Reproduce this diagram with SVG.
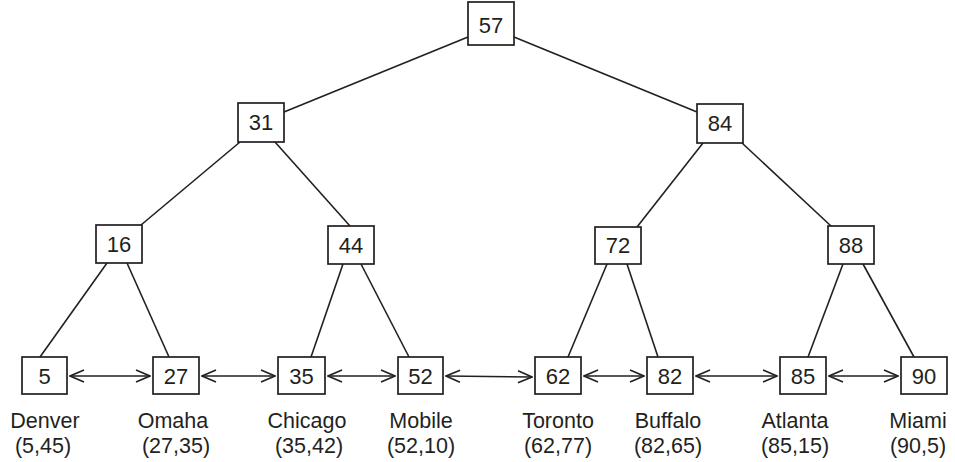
<svg xmlns="http://www.w3.org/2000/svg" width="955" height="462" viewBox="0 0 955 462">
  <style>
    .box { fill: #fff; stroke: #231f20; stroke-width: 1.7; }
    .num { font-family: "Liberation Sans", Arial, sans-serif; font-size: 22px; fill: #231f20; text-anchor: middle; }
    .lbl { font-family: "Liberation Sans", Arial, sans-serif; font-size: 21.5px; fill: #231f20; text-anchor: middle; }
    .edge { stroke: #231f20; stroke-width: 1.6; fill: none; }
    .link { stroke: #231f20; stroke-width: 1.6; fill: none; marker-start: url(#chev); marker-end: url(#chev); }
  </style>
  <defs>
    <marker id="chev" viewBox="0 0 16 14" refX="15" refY="7" markerWidth="16" markerHeight="14" markerUnits="userSpaceOnUse" orient="auto-start-reverse">
      <path d="M1,1 L15,7 L1,13" fill="none" stroke="#231f20" stroke-width="1.6"/>
    </marker>
  </defs>

  <rect width="955" height="462" fill="#fff"/>

  <!-- tree edges and leaf links -->
  <g id="connectors">
    <line class="edge" x1="468" y1="37" x2="284" y2="112"/>
    <line class="edge" x1="514" y1="37" x2="697" y2="112"/>
    <line class="edge" x1="240" y1="142" x2="141" y2="225"/>
    <line class="edge" x1="275" y1="142" x2="350" y2="226"/>
    <line class="edge" x1="703" y1="143" x2="637" y2="227"/>
    <line class="edge" x1="742" y1="143" x2="831" y2="226"/>
    <line class="edge" x1="107" y1="263" x2="40" y2="357"/>
    <line class="edge" x1="127" y1="263" x2="169" y2="357"/>
    <line class="edge" x1="343" y1="264" x2="311" y2="357"/>
    <line class="edge" x1="361" y1="264" x2="409" y2="357"/>
    <line class="edge" x1="607" y1="264" x2="568" y2="357"/>
    <line class="edge" x1="627" y1="264" x2="658" y2="357"/>
    <line class="edge" x1="843" y1="264" x2="808" y2="357"/>
    <line class="edge" x1="863" y1="264" x2="914" y2="357"/>

    <line class="link" x1="70" y1="376" x2="150" y2="376"/>
    <line class="link" x1="202" y1="376" x2="275" y2="376"/>
    <line class="link" x1="328" y1="376" x2="395" y2="376"/>
    <line class="link" x1="446" y1="376" x2="532" y2="377"/>
    <line class="link" x1="584" y1="376" x2="644" y2="376"/>
    <line class="link" x1="696" y1="376" x2="777" y2="376"/>
    <line class="link" x1="829" y1="376" x2="898" y2="376"/>
  </g>

  <!-- internal nodes -->
  <g id="n57"><rect class="box" x="468" y="2" width="46" height="43"/><text class="num" x="491" y="33">57</text></g>
  <g id="n31"><rect class="box" x="238" y="103" width="46" height="39"/><text class="num" x="261" y="130">31</text></g>
  <g id="n84"><rect class="box" x="697" y="104" width="46" height="39"/><text class="num" x="720" y="131">84</text></g>
  <g id="n16"><rect class="box" x="96" y="225" width="46" height="38"/><text class="num" x="119" y="252">16</text></g>
  <g id="n44"><rect class="box" x="328" y="226" width="46" height="38"/><text class="num" x="351" y="253">44</text></g>
  <g id="n72"><rect class="box" x="595" y="227" width="46" height="37"/><text class="num" x="618" y="253">72</text></g>
  <g id="n88"><rect class="box" x="828" y="226" width="46" height="38"/><text class="num" x="851" y="253">88</text></g>

  <!-- leaves with city records -->
  <g id="leaf5">
    <rect class="box" x="22" y="357" width="45" height="37"/><text class="num" x="44.5" y="384">5</text>
    <text class="lbl" x="45" y="428">Denver</text><text class="lbl" x="43" y="453">(5,45)</text>
  </g>
  <g id="leaf27">
    <rect class="box" x="153" y="357" width="46" height="37"/><text class="num" x="176" y="384">27</text>
    <text class="lbl" x="173" y="428">Omaha</text><text class="lbl" x="176" y="453">(27,35)</text>
  </g>
  <g id="leaf35">
    <rect class="box" x="278" y="357" width="47" height="37"/><text class="num" x="301.5" y="384">35</text>
    <text class="lbl" x="307" y="428">Chicago</text><text class="lbl" x="309" y="453">(35,42)</text>
  </g>
  <g id="leaf52">
    <rect class="box" x="398" y="357" width="45" height="37"/><text class="num" x="420.5" y="384">52</text>
    <text class="lbl" x="421" y="428">Mobile</text><text class="lbl" x="421" y="453">(52,10)</text>
  </g>
  <g id="leaf62">
    <rect class="box" x="535" y="357" width="46" height="37"/><text class="num" x="558" y="384">62</text>
    <text class="lbl" x="558" y="428">Toronto</text><text class="lbl" x="558" y="453">(62,77)</text>
  </g>
  <g id="leaf82">
    <rect class="box" x="647" y="357" width="46" height="37"/><text class="num" x="670" y="384">82</text>
    <text class="lbl" x="668" y="428">Buffalo</text><text class="lbl" x="668" y="453">(82,65)</text>
  </g>
  <g id="leaf85">
    <rect class="box" x="780" y="357" width="46" height="37"/><text class="num" x="803" y="384">85</text>
    <text class="lbl" x="795" y="428">Atlanta</text><text class="lbl" x="795" y="453">(85,15)</text>
  </g>
  <g id="leaf90">
    <rect class="box" x="901" y="357" width="46" height="37"/><text class="num" x="924" y="384">90</text>
    <text class="lbl" x="918" y="428">Miami</text><text class="lbl" x="918" y="453">(90,5)</text>
  </g>
</svg>
